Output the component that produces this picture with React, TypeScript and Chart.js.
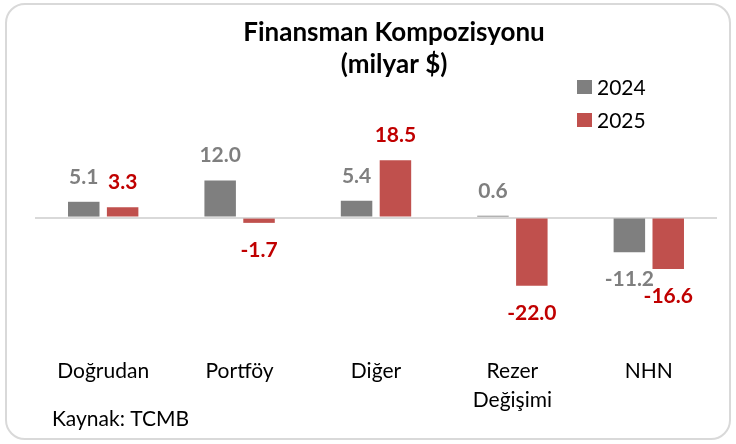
import React, { useEffect, useRef } from 'react';
import { Chart, registerables } from 'chart.js';

Chart.register(...registerables);

const categories = ['Doğrudan', 'Portföy', 'Diğer', 'Rezer\nDeğişimi', 'NHN'];
const seriesNames = ['2024', '2025'];
const values2024 = [5.1, 12.0, 5.4, 0.6, -11.2];
const values2025 = [3.3, -1.7, 18.5, -22.0, -16.6];
const titleLines = ['Finansman Kompozisyonu', '(milyar $)'];
const sourceText = 'Kaynak: TCMB';

const barColors = ['#7F7F7F', '#C0504D'];
const labelColors = ['#7F7F7F', '#C00000'];
const FONT = 'Lato, "Open Sans", "DejaVu Sans", sans-serif';

const overlayPlugin = {
  id: 'overlay',
  afterDatasetsDraw(chart: any) {
    const ctx = chart.ctx as CanvasRenderingContext2D;
    ctx.save();
    // data labels
    chart.data.datasets.forEach((ds: any, i: number) => {
      const meta = chart.getDatasetMeta(i);
      meta.data.forEach((el: any, j: number) => {
        const v = ds.data[j] as number;
        ctx.font = `bold 21px ${FONT}`;
        ctx.fillStyle = labelColors[i];
        ctx.textAlign = 'center';
        ctx.textBaseline = 'alphabetic';
        const y = v >= 0 ? el.y - 18 : el.y + 34;
        ctx.fillText(v.toFixed(1), el.x, y);
      });
    });
    // title
    ctx.fillStyle = '#000000';
    ctx.textAlign = 'center';
    ctx.font = `bold 26px ${FONT}`;
    ctx.fillText(titleLines[0], 394, 41);
    ctx.fillText(titleLines[1], 394, 73);
    // legend
    ctx.textAlign = 'left';
    ctx.font = `21px ${FONT}`;
    seriesNames.forEach((name, i) => {
      const top = 80 + i * 33;
      ctx.fillStyle = barColors[i];
      ctx.fillRect(577, top, 15, 14);
      ctx.fillStyle = '#000000';
      ctx.fillText(name, 597, top + 15);
    });
    // source
    ctx.font = `21px ${FONT}`;
    ctx.fillText(sourceText, 52, 426);
    ctx.restore();
  },
};

export default function App() {
  const canvasRef = useRef<HTMLCanvasElement | null>(null);

  useEffect(() => {
    if (!canvasRef.current) return;
    const chart = new Chart(canvasRef.current, {
      type: 'bar',
      data: {
        labels: categories.map((c) => c.split('\n')),
        datasets: [
          {
            label: seriesNames[0],
            data: values2024,
            backgroundColor: barColors[0],
            categoryPercentage: 0.57,
            barPercentage: 0.81,
          },
          {
            label: seriesNames[1],
            data: values2025,
            backgroundColor: barColors[1],
            categoryPercentage: 0.57,
            barPercentage: 0.81,
          },
        ],
      },
      options: {
        responsive: false,
        animation: false,
        layout: { padding: { left: 35, right: 19, top: 137, bottom: 20 } },
        plugins: {
          legend: { display: false },
          title: { display: false },
          tooltip: { enabled: false },
        },
        scales: {
          x: {
            grid: { display: false, drawTicks: false },
            border: { display: false },
            ticks: {
              color: '#000000',
              font: { family: FONT, size: 21, lineHeight: 1.38 },
              padding: 3,
              maxRotation: 0,
              autoSkip: false,
            },
            afterFit: (s: any) => {
              s.height = 70;
            },
          },
          y: {
            min: -44,
            max: 26,
            grid: {
              drawTicks: false,
              lineWidth: 2,
              color: (c: any) => (c.tick && c.tick.value === 0 ? '#D9D9D9' : 'rgba(0,0,0,0)'),
            },
            border: { display: false },
            ticks: { display: false, stepSize: 2 },
            afterFit: (s: any) => {
              s.width = 0;
            },
          },
        },
      },
      plugins: [overlayPlugin],
    });
    return () => chart.destroy();
  }, []);

  return (
    <div style={{ position: 'fixed', left: 0, top: 0, width: 736, height: 444, background: '#ffffff' }}>
      <div
        style={{
          position: 'absolute',
          left: 5,
          top: 3,
          width: 726,
          height: 437,
          boxSizing: 'border-box',
          border: '2px solid #D9D9D9',
          borderRadius: 20,
        }}
      />
      <canvas
        ref={canvasRef}
        width={736}
        height={444}
        style={{ position: 'absolute', left: 0, top: 0, display: 'block' }}
      />
    </div>
  );
}
